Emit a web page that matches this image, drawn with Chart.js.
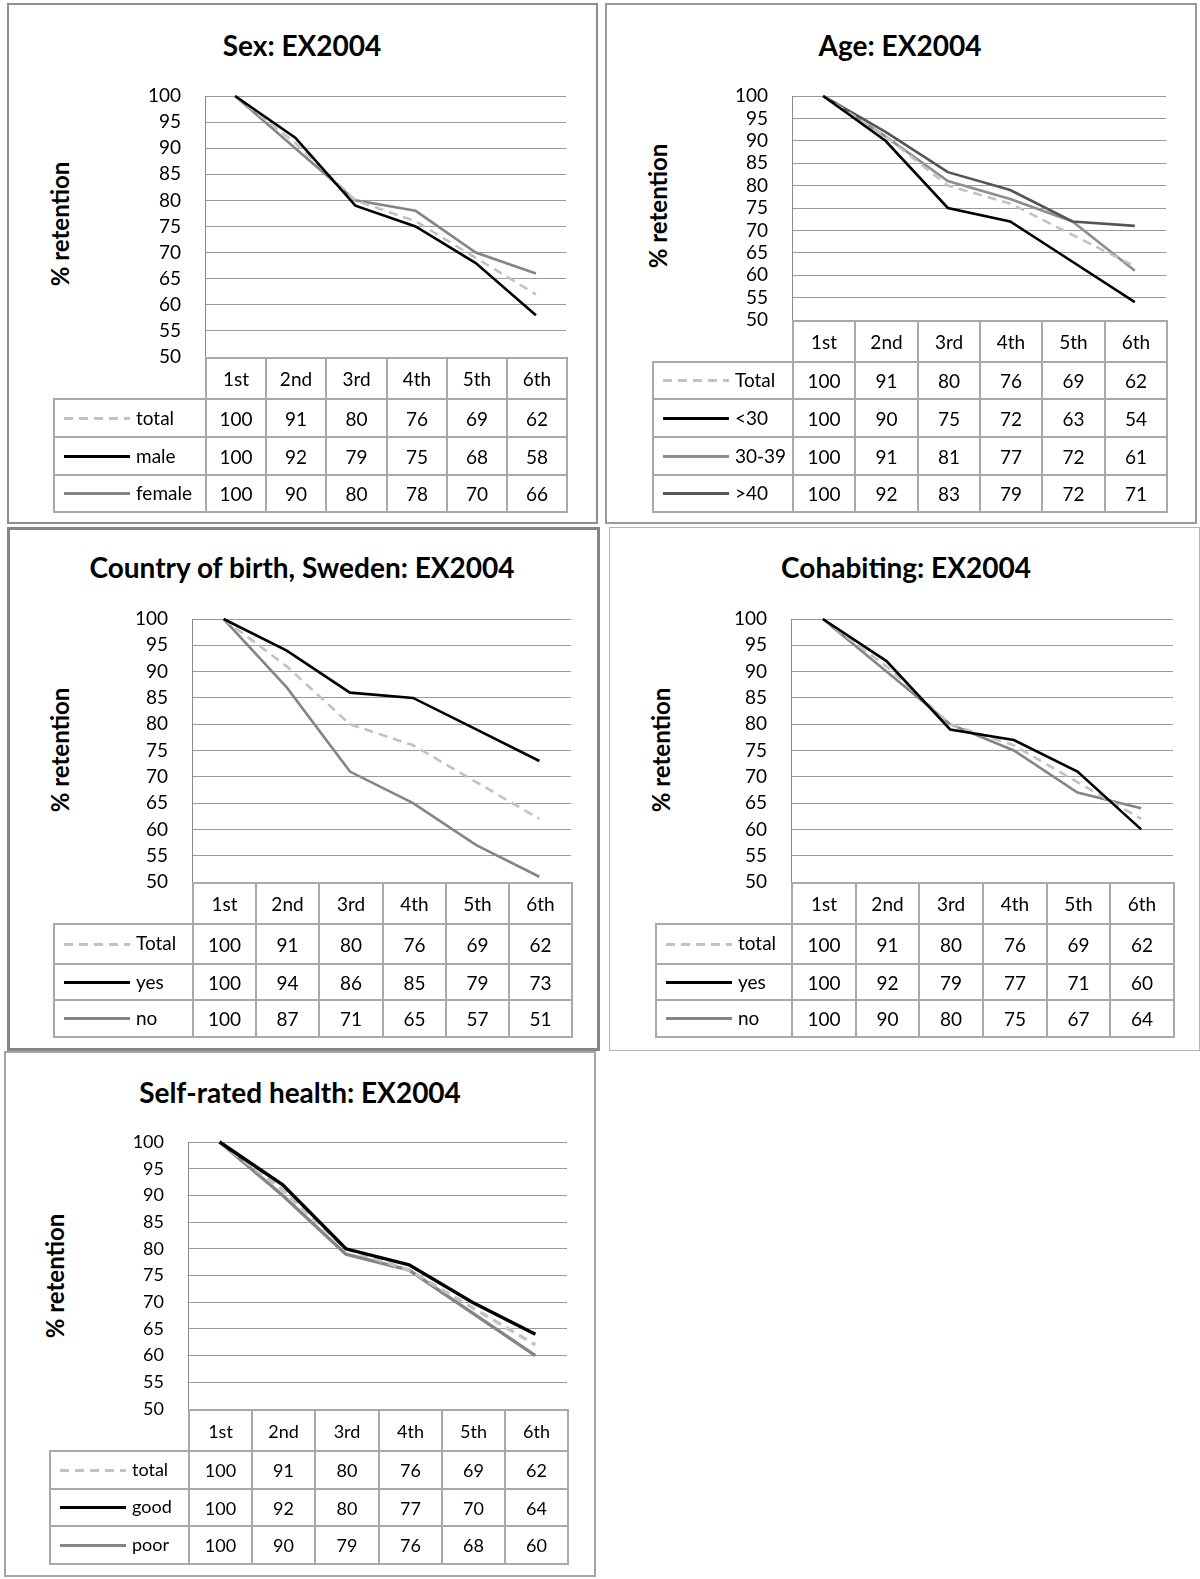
<!DOCTYPE html>
<html>
<head>
<meta charset="utf-8">
<script src="https://cdn.jsdelivr.net/npm/chart.js@4.4.0/dist/chart.umd.min.js"></script>
<style>
html,body{margin:0;padding:0;background:#fff;}
body{width:1200px;height:1579px;position:relative;overflow:hidden;font-family:Lato,"Open Sans",sans-serif;color:#000;}
.box{position:absolute;box-sizing:border-box;border-style:solid;}
.title{position:absolute;transform:translate(-50%,-50%);white-space:nowrap;font-weight:bold;}
.ylab{position:absolute;transform:translate(-50%,-50%) rotate(-90deg);white-space:nowrap;font-weight:bold;}
.cell{position:absolute;box-sizing:border-box;border:2px solid #a9a9a9;display:flex;align-items:center;justify-content:center;white-space:nowrap;}
.cont{position:absolute;}
.legline{position:absolute;}
.leglab{position:absolute;white-space:nowrap;transform:translateY(-50%);}
</style>
</head>
<body>
<script>
// ---------- DATA ----------
const rounds = ['1st', '2nd', '3rd', '4th', '5th', '6th'];
const yTickValues = [50, 55, 60, 65, 70, 75, 80, 85, 90, 95, 100];
const yAxisTitle = '% retention';

const titles = ['Sex: EX2004', 'Age: EX2004', 'Country of birth, Sweden: EX2004', 'Cohabiting: EX2004', 'Self-rated health: EX2004'];

const sexLabels = ['total', 'male', 'female'];
const sexTotal  = [100, 91, 80, 76, 69, 62];
const sexMale   = [100, 92, 79, 75, 68, 58];
const sexFemale = [100, 90, 80, 78, 70, 66];

const ageLabels  = ['Total', '<30', '30-39', '>40'];
const ageTotal   = [100, 91, 80, 76, 69, 62];
const ageUnder30 = [100, 90, 75, 72, 63, 54];
const age30to39  = [100, 91, 81, 77, 72, 61];
const ageOver40  = [100, 92, 83, 79, 72, 71];

const birthLabels = ['Total', 'yes', 'no'];
const birthTotal  = [100, 91, 80, 76, 69, 62];
const birthYes    = [100, 94, 86, 85, 79, 73];
const birthNo     = [100, 87, 71, 65, 57, 51];

const cohabLabels = ['total', 'yes', 'no'];
const cohabTotal  = [100, 91, 80, 76, 69, 62];
const cohabYes    = [100, 92, 79, 77, 71, 60];
const cohabNo     = [100, 90, 80, 75, 67, 64];

const healthLabels = ['total', 'good', 'poor'];
const healthTotal  = [100, 91, 80, 76, 69, 62];
const healthGood   = [100, 92, 80, 77, 70, 64];
const healthPoor   = [100, 90, 79, 76, 68, 60];

// ---------- STYLES / LAYOUT ----------
const DASHED = {color: '#c2c2c2', dash: [9, 6], order: 1};
const BLACK = {color: '#000000', dash: [], order: 0};
const GRAY = {color: '#858585', dash: [], order: 2};
const MIDGRAY = {color: '#8e8e8e', dash: [], order: 2};
const DARKGRAY = {color: '#555555', dash: [], order: 1};

const panels = [
  {title: titles[0], names: sexLabels, data: [sexTotal, sexMale, sexFemale], styles: [DASHED, BLACK, GRAY],
   box: [7, 3, 598, 524], bw: 2, bc: '#8e8e8e', tpos: [302, 45], ypos: [59, 224],
   plot: [205, 96, 566, 357], rows: [357, 398, 436, 474, 511], legL: 53, fs: 19, ts: 28, lw: 2.6, tlh: 1.2},
  {title: titles[1], names: ageLabels, data: [ageTotal, ageUnder30, age30to39, ageOver40], styles: [DASHED, BLACK, MIDGRAY, DARKGRAY],
   box: [605, 3, 1197, 524], bw: 2, bc: '#999999', tpos: [900, 45], ypos: [657, 206],
   plot: [792, 96, 1166, 320], rows: [320, 361, 398, 436, 474, 511], legL: 652, fs: 19, ts: 28, lw: 2.6, tlh: 0.9},
  {title: titles[2], names: birthLabels, data: [birthTotal, birthYes, birthNo], styles: [DASHED, BLACK, GRAY],
   box: [7, 527, 600, 1051], bw: 3, bc: '#858585', tpos: [302, 567], ypos: [59, 750],
   plot: [192, 619, 571, 882], rows: [882, 923, 963, 999, 1036], legL: 53, fs: 19, ts: 28, lw: 2.6, tlh: 1.2},
  {title: titles[3], names: cohabLabels, data: [cohabTotal, cohabYes, cohabNo], styles: [DASHED, BLACK, GRAY],
   box: [609, 527, 1200, 1051], bw: 1, bc: '#b5b5b5', tpos: [906, 567], ypos: [660, 750],
   plot: [791, 619, 1173, 882], rows: [882, 923, 963, 999, 1036], legL: 655, fs: 19, ts: 28, lw: 2.6, tlh: 1.2},
  {title: titles[4], names: healthLabels, data: [healthTotal, healthGood, healthPoor], styles: [DASHED, BLACK, GRAY],
   box: [4, 1051, 596, 1577], bw: 2, bc: '#a5a5a5', tpos: [300, 1092], ypos: [54, 1276],
   plot: [188, 1142, 567, 1409], rows: [1409, 1450, 1488, 1525, 1563], legL: 49, fs: 18, ts: 28, lw: 3.4, tlh: 1.2}
];

function el(cls, parent) {
  const d = document.createElement('div');
  d.className = cls;
  (parent || document.body).appendChild(d);
  return d;
}

function makePanel(p) {
  const b = el('box');
  b.style.left = p.box[0] + 'px'; b.style.top = p.box[1] + 'px';
  b.style.width = (p.box[2] - p.box[0]) + 'px'; b.style.height = (p.box[3] - p.box[1]) + 'px';
  b.style.borderWidth = p.bw + 'px'; b.style.borderColor = p.bc;

  const t = el('title');
  t.textContent = p.title;
  t.style.left = p.tpos[0] + 'px'; t.style.top = p.tpos[1] + 'px'; t.style.fontSize = p.ts + 'px';

  const yl = el('ylab');
  yl.textContent = yAxisTitle;
  yl.style.left = p.ypos[0] + 'px'; yl.style.top = p.ypos[1] + 'px'; yl.style.fontSize = '24px';

  const padL = 90, padT = 16, padR = 16, padB = 16;
  const cont = el('cont');
  const cw = p.plot[2] - p.plot[0] + padL + padR;
  const ch = p.plot[3] - p.plot[1] + padT + padB;
  const cx = p.plot[0] - padL, cy = p.plot[1] - padT;
  cont.style.left = cx + 'px'; cont.style.top = cy + 'px';
  cont.style.width = cw + 'px'; cont.style.height = ch + 'px';
  const canvas = document.createElement('canvas');
  canvas.width = cw; canvas.height = ch;
  canvas.style.width = cw + 'px'; canvas.style.height = ch + 'px';
  cont.appendChild(canvas);

  const chart = new Chart(canvas, {
    type: 'line',
    data: {
      labels: rounds,
      datasets: p.data.map((d, i) => ({
        label: p.names[i],
        data: d,
        borderColor: p.styles[i].color,
        borderDash: p.styles[i].dash,
        borderWidth: p.lw,
        order: p.styles[i].order,
        pointRadius: 0,
        pointHoverRadius: 0,
        tension: 0,
        fill: false,
        clip: false
      }))
    },
    options: {
      responsive: false,
      animation: false,
      devicePixelRatio: 1,
      layout: {padding: {left: 0, top: padT, right: padR, bottom: padB}, autoPadding: false},
      plugins: {legend: {display: false}, tooltip: {enabled: false}, title: {display: false}},
      scales: {
        x: {type: 'category', offset: true, display: false},
        y: {
          min: 50, max: 100,
          afterBuildTicks: s => { s.ticks = yTickValues.map(v => ({value: v})); },
          afterFit: s => { s.width = padL; s.paddingTop = 0; s.paddingBottom = 0; },
          ticks: {padding: 0, autoSkip: false, color: '#000', font: {family: 'Lato', size: p.fs, lineHeight: p.tlh}},
          grid: {color: '#9a9a9a', lineWidth: 1, drawTicks: true, tickLength: 24, tickColor: 'rgba(0,0,0,0)'},
          border: {display: true, color: '#8a8a8a', width: 1}
        }
      }
    }
  });

  // Table aligned with the chart's category columns
  const xs = chart.scales.x;
  const n = rounds.length;
  const colW = (xs.right - xs.left) / n;
  const edges = [];
  for (let i = 0; i <= n; i++) edges.push(Math.round(cx + xs.left + i * colW));
  const bwT = 2;
  function cell(x0, x1, y0, y1) {
    const c = el('cell');
    c.style.left = x0 + 'px'; c.style.top = y0 + 'px';
    c.style.width = (x1 - x0 + bwT) + 'px'; c.style.height = (y1 - y0 + bwT) + 'px';
    c.style.fontSize = p.fs + 'px';
    return c;
  }
  for (let i = 0; i < n; i++) {
    cell(edges[i], edges[i + 1], p.rows[0], p.rows[1]).textContent = rounds[i];
  }
  for (let s = 0; s < p.data.length; s++) {
    const y0 = p.rows[s + 1], y1 = p.rows[s + 2];
    const lc = cell(p.legL, edges[0], y0, y1);
    lc.style.justifyContent = 'flex-start';
    const st = p.styles[s];
    const ln = el('legline', lc);
    const lineH = Math.round(p.lw);
    ln.style.left = '9px'; ln.style.width = '66px'; ln.style.height = lineH + 'px';
    ln.style.top = 'calc(50% - ' + (lineH / 2) + 'px)';
    if (st.dash.length) {
      ln.style.background = 'repeating-linear-gradient(90deg,' + st.color + ' 0 ' + st.dash[0] + 'px, transparent ' + st.dash[0] + 'px ' + (st.dash[0] + st.dash[1]) + 'px)';
    } else {
      ln.style.background = st.color;
    }
    const lb = el('leglab', lc);
    lb.textContent = p.names[s];
    lb.style.left = '81px'; lb.style.top = '46%';
    for (let i = 0; i < n; i++) {
      cell(edges[i], edges[i + 1], y0, y1).textContent = String(p.data[s][i]);
    }
  }
}

panels.forEach(makePanel);
</script>
</body>
</html>
